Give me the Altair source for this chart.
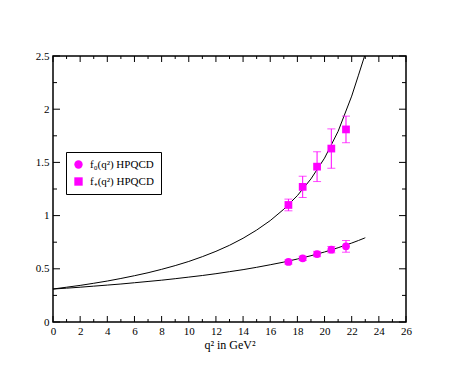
import altair as alt
import pandas as pd

# ---- data ----
q_pts = [17.34, 18.39, 19.45, 20.50, 21.58]
f0_vals = [0.564, 0.598, 0.639, 0.680, 0.711]
f0_errs = [0.020, 0.020, 0.025, 0.030, 0.055]
fp_vals = [1.10, 1.27, 1.46, 1.63, 1.81]
fp_errs = [0.055, 0.10, 0.14, 0.185, 0.125]

curve_q = [0, 1, 2, 3, 4, 5, 6, 7, 8, 9, 10, 11, 12, 13, 14, 15, 16, 17,
           18, 19, 20, 21, 22, 22.5, 22.95]
curve_fp = [0.310, 0.327, 0.344, 0.364, 0.385, 0.409, 0.435, 0.463, 0.495,
            0.530, 0.569, 0.614, 0.664, 0.721, 0.787, 0.864, 0.953, 1.060,
            1.188, 1.345, 1.540, 1.792, 2.123, 2.320, 2.500]
curve_f0 = [0.310, 0.318, 0.327, 0.337, 0.347, 0.357, 0.369, 0.381, 0.393,
            0.407, 0.422, 0.437, 0.454, 0.473, 0.492, 0.514, 0.538, 0.563,
            0.592, 0.623, 0.658, 0.698, 0.742, 0.766, 0.789]
f0_curve_end = (23.0, 0.792)

x_ticks = list(range(0, 27, 2))
x_minor = list(range(1, 26, 2))
y_ticks = [0, 0.5, 1, 1.5, 2, 2.5]
y_minor = [0.25, 0.75, 1.25, 1.75, 2.25]

labels = ["f\u2080(q\u00b2) HPQCD", "f\u208a(q\u00b2) HPQCD"]

W, H = 353, 266
SERIF = "Liberation Serif"
MAG = "#ff00ff"

xs = alt.Scale(domain=[0, 26], nice=False, zero=False)
ys = alt.Scale(domain=[0, 2.5], nice=False, zero=False)

curves = pd.DataFrame(
    [{"q": q, "v": v, "c": "plus"} for q, v in zip(curve_q, curve_fp)]
    + [{"q": q, "v": v, "c": "zero"} for q, v in zip(curve_q, curve_f0)]
    + [{"q": f0_curve_end[0], "v": f0_curve_end[1], "c": "zero"}]
)

pts = pd.DataFrame(
    [{"q": q, "v": v, "lo": v - e, "hi": v + e, "s": labels[0]}
     for q, v, e in zip(q_pts, f0_vals, f0_errs)]
    + [{"q": q, "v": v, "lo": v - e, "hi": v + e, "s": labels[1]}
       for q, v, e in zip(q_pts, fp_vals, fp_errs)]
)

x_axis = alt.Axis(values=x_ticks, ticks=False, domain=False, grid=False,
                  labelOverlap=False, labelFlush=False,
                  labelFont=SERIF, labelFontSize=11, labelColor="black",
                  labelPadding=3, title="q\u00b2 in GeV\u00b2",
                  titleFont=SERIF, titleFontSize=12, titleFontWeight="normal",
                  titleColor="black", titlePadding=3)
y_axis = alt.Axis(values=y_ticks, ticks=False, domain=False, grid=False,
                  labelOverlap=False, labelFlush=False,
                  format="~g", labelFont=SERIF, labelFontSize=11,
                  labelColor="black", labelPadding=4, title=None)

def X(f):
    return alt.X(f, scale=xs, axis=x_axis)

def Y(f):
    return alt.Y(f, scale=ys, axis=y_axis)

line = alt.Chart(curves).mark_line(color="black", strokeWidth=1).encode(
    x=X("q:Q"), y=Y("v:Q"), detail="c:N")

err = alt.Chart(pts).mark_rule(color=MAG, strokeWidth=1).encode(
    x=X("q:Q"), y=Y("lo:Q"), y2="hi:Q")
cap_lo = alt.Chart(pts).mark_tick(color=MAG, thickness=1, size=8, orient="horizontal").encode(
    x=X("q:Q"), y=Y("lo:Q"))
cap_hi = alt.Chart(pts).mark_tick(color=MAG, thickness=1, size=8, orient="horizontal").encode(
    x=X("q:Q"), y=Y("hi:Q"))

points = alt.Chart(pts).mark_point(filled=True, opacity=1, size=60, color=MAG).encode(
    x=X("q:Q"), y=Y("v:Q"),
    shape=alt.Shape("s:N", scale=alt.Scale(domain=labels, range=["circle", "square"]),
                    legend=alt.Legend(title=None, orient="none", legendX=13, legendY=96,
                                      strokeColor="black", padding=7, symbolSize=70,
                                      symbolFillColor=MAG, symbolStrokeColor=MAG,
                                      labelFont=SERIF, labelFontSize=11, labelColor="black",
                                      rowPadding=5, labelOffset=6, symbolStrokeWidth=0,
                                      symbolOpacity=1, fillColor="white")),
)

xt = pd.DataFrame({"t": x_ticks})
xm = pd.DataFrame({"t": x_minor})
yt = pd.DataFrame({"t": y_ticks})
ym = pd.DataFrame({"t": y_minor})

def xtick(df, length):
    b = alt.Chart(df).mark_rule(color="black", strokeWidth=1)
    return (b.encode(x=X("t:Q"), y=alt.value(H), y2=alt.value(H - length))
            + b.encode(x=X("t:Q"), y=alt.value(0), y2=alt.value(length)))

def ytick(df, length):
    b = alt.Chart(df).mark_rule(color="black", strokeWidth=1)
    return (b.encode(y=Y("t:Q"), x=alt.value(0), x2=alt.value(length))
            + b.encode(y=Y("t:Q"), x=alt.value(W), x2=alt.value(W - length)))

chart = alt.layer(
    line, err, cap_lo, cap_hi, points,
    xtick(xt, 6), xtick(xm, 3), ytick(yt, 7), ytick(ym, 4),
).properties(
    width=W, height=H,
    padding={"left": 45, "top": 48, "right": 40, "bottom": 50},
    autosize=alt.AutoSizeParams(type="none"),
    background="white",
).configure_view(stroke="black", strokeWidth=1.5)

chart.save("out.html", embed_options={"renderer": "svg", "actions": False})
